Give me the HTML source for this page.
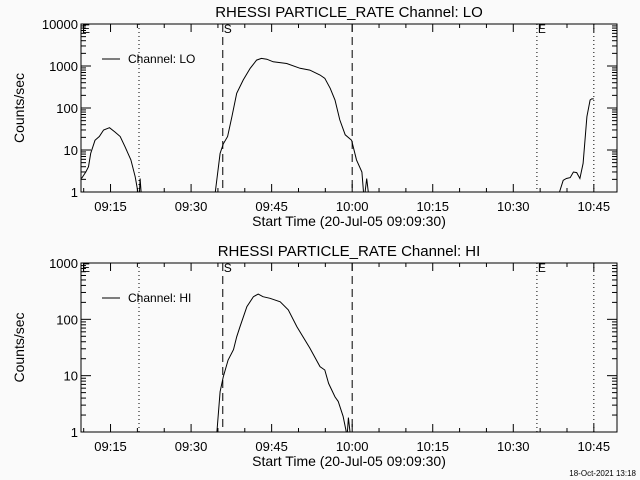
<!DOCTYPE html>
<html><head><meta charset="utf-8"><style>
body{margin:0;background:#fafafa;}
svg{display:block;font-family:"Liberation Sans",sans-serif;}
</style></head><body>
<svg id="c" width="640" height="480"></svg>
<script>
// minutes since 09:09:30
const loTimes=[0.1,0.9,1.4,1.8,2.6,3.4,4.2,5.3,6.3,7.3,8.2,9.3,10.1,10.6,null,10.9,11.0,11.2,null,25.0,25.9,26.5,27.3,28.1,29.0,30.2,31.5,32.7,33.6,34.6,35.8,38.3,40.8,42.6,44.5,45.4,46.4,47.3,48.2,49.2,50.4,51.3,52.3,52.6,null,52.9,53.2,53.5,null,89.1,89.8,90.4,91.1,91.7,92.3,92.9,93.5,94.2,94.8,95.1,95.5];
const loValues=[2.1,3.0,4,8.3,17,21,30,34,27,21,12,5.8,2.3,1,null,1,2.1,1,null,1,8.3,14,21,62,224,465,880,1380,1520,1450,1260,1150,880,800,610,510,295,155,52,23,17,5.8,3,1,null,1,2.1,1,null,1,1.9,2.1,2.2,3,2.9,2.1,4.8,62,155,165,165];
const hiTimes=[25.3,25.9,26.5,27.4,28.4,29.0,29.6,30.9,32.1,33.0,33.9,35.2,37.1,38.6,40.2,42.6,44.5,45.4,46.1,47.3,47.9,48.8,49.4,null,49.6,49.8,50.1];
const hiValues=[1,5.2,9.6,19,29,49,74,168,252,280,252,236,205,147,74,31,14.5,12.6,7.3,4.2,3.5,1.9,1,null,1,1.8,1];
const xTickLabels=["09:15","09:30","09:45","10:00","10:15","10:30","10:45"];
const xTickMinutes=[5.5,20.5,35.5,50.5,65.5,80.5,95.5];
const markerDotted=[10.8,84.9,95.5];
const markerDashed=[26.4,50.5];
const loTicks=["1","10","100","1000","10000"];
const hiTicks=["1","10","100","1000"];

const NS="http://www.w3.org/2000/svg";
const svg=document.getElementById('c');
function mk(t,a,p){const e=document.createElementNS(NS,t);for(const k in a)e.setAttribute(k,a[k]);(p||svg).appendChild(e);return e;}
const X0=81,X1=617,PPM=5.37;
const xs=m=>X0+m*PPM;

function panel(top,bot,decades,ticks,times,vals,title,legend,name){
  const g=mk('g',{});
  
  
  const ys=v=>bot-Math.log10(Math.max(v,1))/decades*(bot-top);
  mk('rect',{x:X0,y:top,width:X1-X0,height:bot-top,fill:'none',stroke:'#000','stroke-width':1},g);
  // y ticks
  for(let d=0;d<=decades;d++){
    const y=ys(Math.pow(10,d));
    mk('line',{x1:X0,x2:X0+10,y1:y,y2:y,stroke:'#000'},g);
    mk('line',{x1:X1-10,x2:X1,y1:y,y2:y,stroke:'#000'},g);
    const t=mk('text',{x:X0-3,y:y+5,'text-anchor':'end','font-size':13},g);
    t.textContent=ticks[d];
    
    
    if(d<decades)for(let k=2;k<10;k++){const yy=ys(k*Math.pow(10,d));
      mk('line',{x1:X0,x2:X0+5,y1:yy,y2:yy,stroke:'#000'},g);
      mk('line',{x1:X1-5,x2:X1,y1:yy,y2:yy,stroke:'#000'},g);}
  }
  // x ticks
  for(let m=0.5;m<100;m+=5){const x=xs(m);const major=Math.abs(((m-5.5)%15+15)%15)<0.01;const L=major?8:4;
    mk('line',{x1:x,x2:x,y1:bot,y2:bot-L,stroke:'#000'},g);mk('line',{x1:x,x2:x,y1:top,y2:top+L,stroke:'#000'},g);}
  xTickLabels.forEach((s,i)=>{const t=mk('text',{x:xs(xTickMinutes[i]),y:bot+19,'text-anchor':'middle','font-size':13},g);t.textContent=s;
    
    });
  const xt=mk('text',{x:349,y:bot+34,'text-anchor':'middle','font-size':14},g);xt.textContent='Start Time (20-Jul-05 09:09:30)';
  
  
  const tt=mk('text',{x:349,y:top-7,'text-anchor':'middle','font-size':15},g);tt.textContent=title;
  
  
  const yt=mk('text',{x:24,y:(top+bot)/2,'text-anchor':'middle','font-size':14,transform:`rotate(-90 24 ${(top+bot)/2})`},g);yt.textContent='Counts/sec';
  
  
  // markers
  markerDotted.forEach(m=>mk('line',{x1:xs(m),x2:xs(m),y1:top,y2:bot,stroke:'#000','stroke-dasharray':'1,3'},g));
  markerDashed.forEach(m=>mk('line',{x1:xs(m),x2:xs(m),y1:top,y2:bot,stroke:'#000','stroke-dasharray':'8,5'},g));
  const s=mk('text',{x:xs(markerDashed[0])+1,y:top+9,'font-size':12},g);s.textContent='S';
  const e=mk('text',{x:xs(markerDotted[1])+1,y:top+9,'font-size':12},g);e.textContent='E';
  const e2=mk('text',{x:X0+1,y:top+9,'font-size':12},g);e2.textContent='E';
  // series
  let d='',pen=false;
  times.forEach((t,i)=>{if(t===null){pen=false;return;}d+=(pen?'L':'M')+xs(t).toFixed(1)+','+ys(vals[i]).toFixed(1);pen=true;});
  const p=mk('path',{d:d,fill:'none',stroke:'#000','stroke-width':1},g);
  
  
  // legend
  const ly=top+35;
  mk('line',{x1:102,x2:120,y1:ly,y2:ly,stroke:'#000'},g);
  const lt=mk('text',{x:128,y:ly+4,'font-size':12},g);lt.textContent=legend;
  
  
}
panel(24,192,4,loTicks,loTimes,loValues,'RHESSI PARTICLE_RATE Channel: LO','Channel: LO','panel-lo');
panel(263,432,3,hiTicks,hiTimes,hiValues,'RHESSI PARTICLE_RATE Channel: HI','Channel: HI','panel-hi');
const f=mk('text',{x:636,y:476,'text-anchor':'end','font-size':8});f.textContent='18-Oct-2021 13:18';


</script>
</body></html>
